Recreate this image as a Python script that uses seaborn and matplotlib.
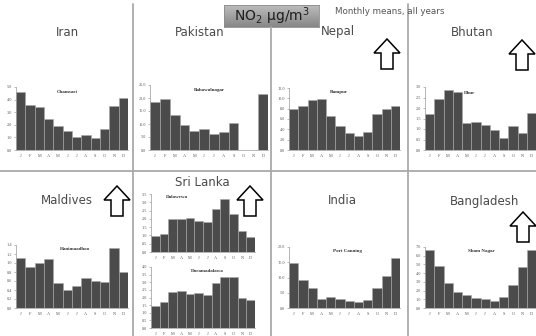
import numpy as np
import pandas as pd
import matplotlib
matplotlib.use("Agg")
import matplotlib.pyplot as plt
from matplotlib.lines import Line2D
from matplotlib.patches import Polygon
import seaborn as sns

# ---------------- data ----------------
months = ["Jan", "Feb", "Mar", "Apr", "May", "Jun", "Jul", "Aug", "Sep", "Oct", "Nov", "Dec"]
month_labels = ["J", "F", "M", "A", "M", "J", "J", "A", "S", "O", "N", "D"]

iran_chamsari = [4.6, 3.6, 3.4, 2.5, 1.9, 1.5, 1.0, 1.2, 0.95, 1.65, 3.5, 4.1]
pakistan_bahawalnagar = [18.3, 19.5, 13.5, 9.5, 7.4, 8.0, 6.2, 6.9, 10.4, 0.0, 0.0, 21.6]
nepal_rampur = [8.0, 8.5, 9.6, 9.8, 6.6, 4.6, 3.3, 2.8, 3.5, 6.9, 8.0, 8.6]
bhutan_dhur = [1.72, 2.45, 2.84, 2.77, 1.3, 1.32, 1.17, 0.93, 0.57, 1.16, 0.8, 1.78]
maldives_hanimaadhoo = [1.12, 0.91, 0.99, 1.08, 0.56, 0.39, 0.48, 0.67, 0.61, 0.58, 1.33, 0.81]
srilanka_dalawewa = [0.94, 1.08, 2.02, 2.0, 2.05, 1.86, 1.8, 2.6, 3.18, 2.32, 1.24, 0.9]
srilanka_doramadalawa = [1.44, 1.7, 2.39, 2.41, 2.26, 2.28, 2.19, 2.94, 3.34, 3.36, 1.95, 1.81]
india_portcanning = [14.9, 9.2, 6.7, 3.1, 3.5, 3.1, 2.3, 2.0, 2.5, 6.4, 10.4, 16.3]
bangladesh_shamnagar = [6.7, 4.8, 2.9, 1.85, 1.5, 1.15, 1.0, 0.85, 1.3, 2.6, 4.65, 6.7]

yticks_iran = [0.0, 1.0, 2.0, 3.0, 4.0, 5.0]
yticks_pakistan = [0.0, 5.0, 10.0, 15.0, 20.0, 25.0]
yticks_nepal = [0.0, 2.0, 4.0, 6.0, 8.0, 10.0, 12.0]
yticks_bhutan = [0.0, 0.5, 1.0, 1.5, 2.0, 2.5, 3.0]
yticks_maldives = [0.0, 0.2, 0.4, 0.6, 0.8, 1.0, 1.2, 1.4]
yticks_dalawewa = [0.0, 0.5, 1.0, 1.5, 2.0, 2.5, 3.0, 3.5]
yticks_doramadalawa = [0.0, 0.5, 1.0, 1.5, 2.0, 2.5, 3.0, 3.5, 4.0]
yticks_india = [0.0, 5.0, 10.0, 15.0, 20.0]
yticks_bangladesh = [0.0, 1.0, 2.0, 3.0, 4.0, 5.0, 6.0, 7.0]

countries = ["Iran", "Pakistan", "Nepal", "Bhutan", "Maldives", "Sri Lanka", "India", "Bangladesh"]

# ---------------- figure ----------------
sns.set_theme(style="white")
W, H = 536, 336
fig = plt.figure(figsize=(W / 100, H / 100), dpi=100)
fig.patch.set_facecolor("white")


def fx(x):
    return x / W


def fy(y):
    return 1 - y / H


def panel(x0, x1, y0, y1, values, yticks, station, sx, sy):
    ax = fig.add_axes([fx(x0), fy(y1), (x1 - x0) / W, (y1 - y0) / H])
    df = pd.DataFrame({"month": months, "value": values})
    sns.barplot(data=df, x="month", y="value", order=months, ax=ax,
                color="#4b4b4b", saturation=1, width=1.0,
                edgecolor="#a8a8a8", linewidth=0.4)
    ax.set_xlim(-0.5, 11.5)
    ax.set_ylim(yticks[0], yticks[-1])
    ax.set_yticks(yticks)
    ax.set_yticklabels([f"{t:.1f}" for t in yticks], fontsize=3.1,
                       family="Liberation Serif", color="#555555")
    ax.set_xticks(range(12))
    ax.set_xticklabels(month_labels, fontsize=3.1, family="Liberation Serif",
                       color="#555555")
    ax.set_xlabel("")
    ax.set_ylabel("")
    ax.tick_params(axis="y", length=1.2, width=0.4, pad=1.5, color="#888888", left=True)
    ax.tick_params(axis="x", length=0, pad=3)
    for s in ["top", "right"]:
        ax.spines[s].set_visible(False)
    for s in ["left", "bottom"]:
        ax.spines[s].set_color("#999999")
        ax.spines[s].set_linewidth(0.5)
    ax.patch.set_alpha(0)
    fig.text(fx(sx), fy(sy), station, fontsize=3.6, fontweight="bold",
             family="Liberation Serif", color="#333333", ha="center", va="center")
    return ax


panel(16, 128, 87, 150, iran_chamsari, yticks_iran, "Chamsari", 67, 92)
panel(150, 268, 85, 150, pakistan_bahawalnagar, yticks_pakistan, "Bahawalnagar", 209, 90)
panel(289, 400, 88, 150, nepal_rampur, yticks_nepal, "Rampur", 339, 92)
panel(425, 536, 87, 150, bhutan_dhur, yticks_bhutan, "Dhur", 470, 93)
panel(16, 128, 245, 308, maldives_hanimaadhoo, yticks_maldives, "Hanimaadhoo", 75, 249)
panel(151, 255, 194, 252, srilanka_dalawewa, yticks_dalawewa, "Dalawewa", 177, 197)
panel(151, 255, 267, 328, srilanka_doramadalawa, yticks_doramadalawa, "Doramadalawa", 207, 271)
panel(289, 400, 247, 308, india_portcanning, yticks_india, "Port Canning", 347, 251)
panel(425, 536, 247, 308, bangladesh_shamnagar, yticks_bangladesh, "Sham Nagar", 481, 251)

# ---------------- separator lines ----------------
line_kw = dict(color="#a9a9a9", lw=1.3, transform=fig.transFigure)
fig.add_artist(Line2D([fx(133), fx(133)], [fy(4), fy(336)], **line_kw))
fig.add_artist(Line2D([fx(271), fx(271)], [fy(27), fy(336)], **line_kw))
fig.add_artist(Line2D([fx(408), fx(408)], [fy(4), fy(336)], **line_kw))
fig.add_artist(Line2D([fx(0), fx(536)], [fy(171), fy(171)], **line_kw))

# ---------------- country titles ----------------
title_pos = [(67, 33), (200, 33), (338, 32), (472, 33),
             (67, 201), (202, 182), (342, 201), (485, 201)]
for name, (tx, ty) in zip(countries, title_pos):
    fig.text(fx(tx), fy(ty), name, fontsize=8.5, family="DejaVu Sans",
             color="#4a4a4a", ha="center", va="center")

# ---------------- NO2 box ----------------
bx0, bx1, by0, by1 = 224, 319, 5, 27
bax = fig.add_axes([fx(bx0), fy(by1), (bx1 - bx0) / W, (by1 - by0) / H])
grad = np.linspace(0, 1, 50).reshape(-1, 1)
bax.imshow(grad, aspect="auto", cmap=matplotlib.colors.LinearSegmentedColormap.from_list(
    "g", ["#bcbcbc", "#878787"]), extent=[0, 1, 0, 1], origin="upper")
bax.set_xticks([])
bax.set_yticks([])
for s in bax.spines.values():
    s.set_color("#8c8c8c")
    s.set_linewidth(0.6)
bax.text(0.5, 0.5, "NO$_2$ \u03bcg/m$^3$", fontsize=10, family="DejaVu Sans",
         color="#1e1e1e", ha="center", va="center", transform=bax.transAxes)

fig.text(fx(335), fy(12), "Monthly means, all years", fontsize=6.3,
         family="DejaVu Sans", color="#555555", ha="left", va="center")

# ---------------- arrows ----------------
def up_arrow(cx, top, w=26, h=30, head=14, shaft=12):
    pts = [(cx, top), (cx + w / 2, top + head), (cx + shaft / 2, top + head),
           (cx + shaft / 2, top + h), (cx - shaft / 2, top + h),
           (cx - shaft / 2, top + head), (cx - w / 2, top + head)]
    poly = Polygon([(fx(x), fy(y)) for x, y in pts], closed=True,
                   facecolor="white", edgecolor="black", lw=1.1,
                   transform=fig.transFigure)
    fig.add_artist(poly)


for cx, top in [(387, 39), (522, 40), (117, 186), (250, 186), (523, 212)]:
    up_arrow(cx, top)

fig.savefig("out.png", dpi=100)
